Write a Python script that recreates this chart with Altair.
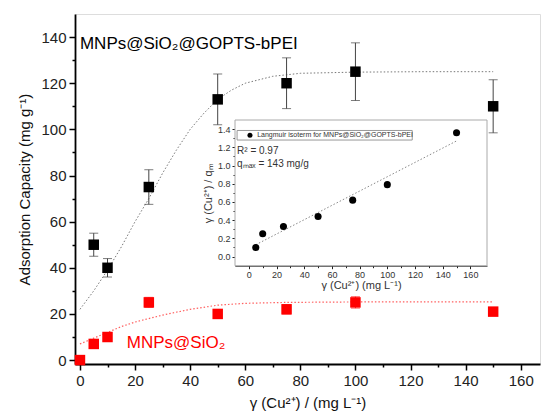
import altair as alt
import pandas as pd

FONT = "Liberation Sans"

# ---- main data ----
bpei_x = [5, 10, 25, 50, 75, 100, 150]
bpei_y = [50, 40, 75, 113, 120, 125, 110]
bpei_err = [5, 4, 7.5, 11, 11, 12.5, 11.5]

sio2_x = [0, 5, 10, 25, 50, 75, 100, 150]
sio2_y = [0, 7, 10, 25, 20, 22, 25, 21]
sio2_err = [0, 0, 0, 2.2, 1.5, 2, 2.5, 1.5]

# fitted curves
fit_bpei_x = [0, 5, 10, 15, 20, 25, 30, 35, 40, 45, 50, 55, 60, 70, 80, 100, 125, 150]
fit_bpei_y = [22, 30, 39, 49, 60, 70, 81, 91, 100, 107, 113, 117, 120, 123, 124.3, 124.8, 125, 125]
fit_sio2_x = [0, 5, 10, 15, 20, 25, 30, 40, 50, 60, 75, 100, 150]
fit_sio2_y = [7, 9.5, 12, 14.5, 16.5, 18, 19.5, 22, 23.8, 24.6, 25, 25.2, 25.2]

# ---- inset data ----
lang_x = [5, 10, 25, 50, 75, 100, 150]
lang_y = [0.10, 0.25, 0.33, 0.44, 0.62, 0.79, 1.36]
lang_fit_x = [5, 150]
lang_fit_y = [0.13, 1.27]

main_ticks = list(range(0, 170, 10))
main_yticks = list(range(0, 150, 10))

df_b = pd.DataFrame({"x": bpei_x, "y": bpei_y,
                     "lo": [y - e for y, e in zip(bpei_y, bpei_err)],
                     "hi": [y + e for y, e in zip(bpei_y, bpei_err)]})
df_s = pd.DataFrame({"x": sio2_x, "y": sio2_y,
                     "lo": [y - e for y, e in zip(sio2_y, sio2_err)],
                     "hi": [y + e for y, e in zip(sio2_y, sio2_err)]})
df_fb = pd.DataFrame({"x": fit_bpei_x, "y": fit_bpei_y})
df_fs = pd.DataFrame({"x": fit_sio2_x, "y": fit_sio2_y})

minor_size = {"condition": {"test": "datum.value % 20 === 0", "value": 6}, "value": 3}

xs = alt.Scale(domain=[-1.8, 167], nice=False, zero=False)
ys = alt.Scale(domain=[-1.7, 150], nice=False, zero=False)
xax = alt.Axis(values=main_ticks, title="γ (Cu²⁺) / (mg L⁻¹)", grid=False,
               labelExpr="datum.value % 20 === 0 ? datum.label : ''",
               tickSize=minor_size, tickColor="black", tickWidth=1.5,
               domainColor="black", domainWidth=1.8, labelFont=FONT, labelFontSize=15,
               labelColor="#222", labelPadding=3, titleFont=FONT, titleFontSize=15,
               titleFontWeight="normal", titleColor="#111", titlePadding=7,
               orient="bottom")
yax = alt.Axis(values=main_yticks, title="Adsorption Capacity (mg g⁻¹)", grid=False,
               labelExpr="datum.value % 20 === 0 ? datum.label : ''",
               tickSize=minor_size, tickColor="black", tickWidth=1.5,
               domainColor="black", domainWidth=1.8, labelFont=FONT, labelFontSize=15,
               labelColor="#222", labelPadding=3, titleFont=FONT, titleFontSize=15,
               titleFontWeight="normal", titleColor="#111", titlePadding=8,
               orient="left")


def X(f="x"):
    return alt.X(f"{f}:Q", scale=xs, axis=xax)


def Y(f="y"):
    return alt.Y(f"{f}:Q", scale=ys, axis=yax)


fit_b = alt.Chart(df_fb).mark_line(color="#777", strokeDash=[1.5, 2], strokeWidth=1).encode(x=X(), y=Y())
fit_s = alt.Chart(df_fs).mark_line(color="#ff6060", strokeDash=[1.5, 2], strokeWidth=1.2).encode(x=X(), y=Y())

err_b = alt.Chart(df_b).mark_rule(color="#444", strokeWidth=1).encode(x=X(), y=Y("lo"), y2="hi:Q")
cap_b_lo = alt.Chart(df_b).mark_tick(color="#444", orient="horizontal", size=9, thickness=1).encode(x=X(), y=Y("lo"))
cap_b_hi = alt.Chart(df_b).mark_tick(color="#444", orient="horizontal", size=9, thickness=1).encode(x=X(), y=Y("hi"))
err_s = alt.Chart(df_s).mark_rule(color="#ff3030", strokeWidth=1).encode(x=X(), y=Y("lo"), y2="hi:Q")
cap_s_lo = alt.Chart(df_s).mark_tick(color="#ff3030", orient="horizontal", size=9, thickness=1).encode(x=X(), y=Y("lo"))
cap_s_hi = alt.Chart(df_s).mark_tick(color="#ff3030", orient="horizontal", size=9, thickness=1).encode(x=X(), y=Y("hi"))

pts_b = alt.Chart(df_b).mark_square(color="black", opacity=1, size=110).encode(x=X(), y=Y())
pts_s = alt.Chart(df_s).mark_square(color="#ff0000", opacity=1, size=110).encode(x=X(), y=Y())

lab_df = pd.DataFrame({"x": [0, 17], "y": [137, 7.5],
                       "t": ["MNPs@SiO₂@GOPTS-bPEI", "MNPs@SiO₂"],
                       "c": ["black", "#ff0000"]})
labels = alt.Chart(lab_df).mark_text(align="left", baseline="middle", font=FONT, fontSize=17).encode(
    x=X(), y=Y(), text="t:N", color=alt.Color("c:N", scale=None))

main = alt.layer(fit_b, fit_s, err_b, cap_b_lo, cap_b_hi, err_s, cap_s_lo, cap_s_hi,
                 pts_b, pts_s, labels)

# ---- inset ----
ixs = alt.Scale(domain=[-10, 172], range=[160, 412], nice=False, zero=False)
iys = alt.Scale(domain=[-0.1, 1.5], range=[251.7, 106], nice=False, zero=False)
ix_minor = {"condition": {"test": "datum.value % 20 === 0", "value": 3}, "value": 2}
iy_minor = {"condition": {"test": "round(datum.value*10) % 2 === 0", "value": 3}, "value": 2}
ixax = alt.Axis(values=list(range(0, 170, 10)), orient="bottom", offset=-98.3, grid=False,
                labelExpr="datum.value % 20 === 0 ? datum.label : ''",
                title="γ (Cu²⁺) (mg L⁻¹)", tickSize=ix_minor, tickColor="#222",
                domainColor="#222", labelFont=FONT, labelFontSize=9, labelColor="#333",
                labelPadding=2, titleFont=FONT, titleFontSize=11, titleFontWeight="normal",
                titleColor="#333", titlePadding=0)
iyax = alt.Axis(values=[round(v * 0.1, 1) for v in range(0, 15)], orient="left", offset=-160,
                grid=False,
                labelExpr="round(datum.value*10) % 2 === 0 ? format(datum.value, '.1f') : ''",
                title="γ (Cu²⁺) / qₘ", tickSize=iy_minor, tickColor="#222",
                domainColor="#222", labelFont=FONT, labelFontSize=9, labelColor="#333",
                labelPadding=2, titleFont=FONT, titleFontSize=11, titleFontWeight="normal",
                titleColor="#333", titlePadding=4)


def IX(f="x"):
    return alt.X(f"{f}:Q", scale=ixs, axis=ixax)


def IY(f="y"):
    return alt.Y(f"{f}:Q", scale=iys, axis=iyax)


frame_df = pd.DataFrame({"x": [-10], "x2": [172], "y": [-0.1], "y2": [1.5]})
frame = alt.Chart(frame_df).mark_rect(fill="white", stroke="#aaa", strokeWidth=1).encode(
    x=IX(), x2="x2:Q", y=IY(), y2="y2:Q")

df_l = pd.DataFrame({"x": lang_x, "y": lang_y})
df_lf = pd.DataFrame({"x": lang_fit_x, "y": lang_fit_y})
ifit = alt.Chart(df_lf).mark_line(color="#888", strokeDash=[1.5, 2], strokeWidth=1).encode(x=IX(), y=IY())
ipts = alt.Chart(df_l).mark_circle(color="black", opacity=1, size=50).encode(x=IX(), y=IY())

leg_df = pd.DataFrame({"x": [-8.5], "x2": [118], "y": [1.28], "y2": [1.385]})
leg_box = alt.Chart(leg_df).mark_rect(fill="white", stroke="#999", strokeWidth=1).encode(
    x=IX(), x2="x2:Q", y=IY(), y2="y2:Q")
leg_dot = alt.Chart(pd.DataFrame({"x": [0.8], "y": [1.333]})).mark_circle(
    color="black", opacity=1, size=25).encode(x=IX(), y=IY())
itext_df = pd.DataFrame({"x": [6, -8.5, -8.5], "y": [1.333, 1.165, 1.02],
                         "t": ["Langmuir isoterm for MNPs@SiO₂@GOPTS-bPEI", "R² = 0.97",
                               "qₘₐₓ = 143 mg/g"],
                         "s": [7, 10, 10]})
itext = alt.Chart(itext_df).mark_text(align="left", baseline="middle", font=FONT, color="#333").encode(
    x=IX(), y=IY(), text="t:N", size=alt.Size("s:Q", scale=None, legend=None))

inset = alt.layer(frame, ifit, ipts, leg_box, leg_dot, itext)

chart = alt.layer(main, inset).resolve_scale(x="independent", y="independent").properties(
    width=465, height=350,
    autosize=alt.AutoSizeParams(type="none"),
    padding={"left": 75, "top": 14, "right": 2, "bottom": 51},
).configure_view(stroke=None).configure(background="white")

chart.save("out.html", embed_options={"renderer": "svg", "actions": False})
